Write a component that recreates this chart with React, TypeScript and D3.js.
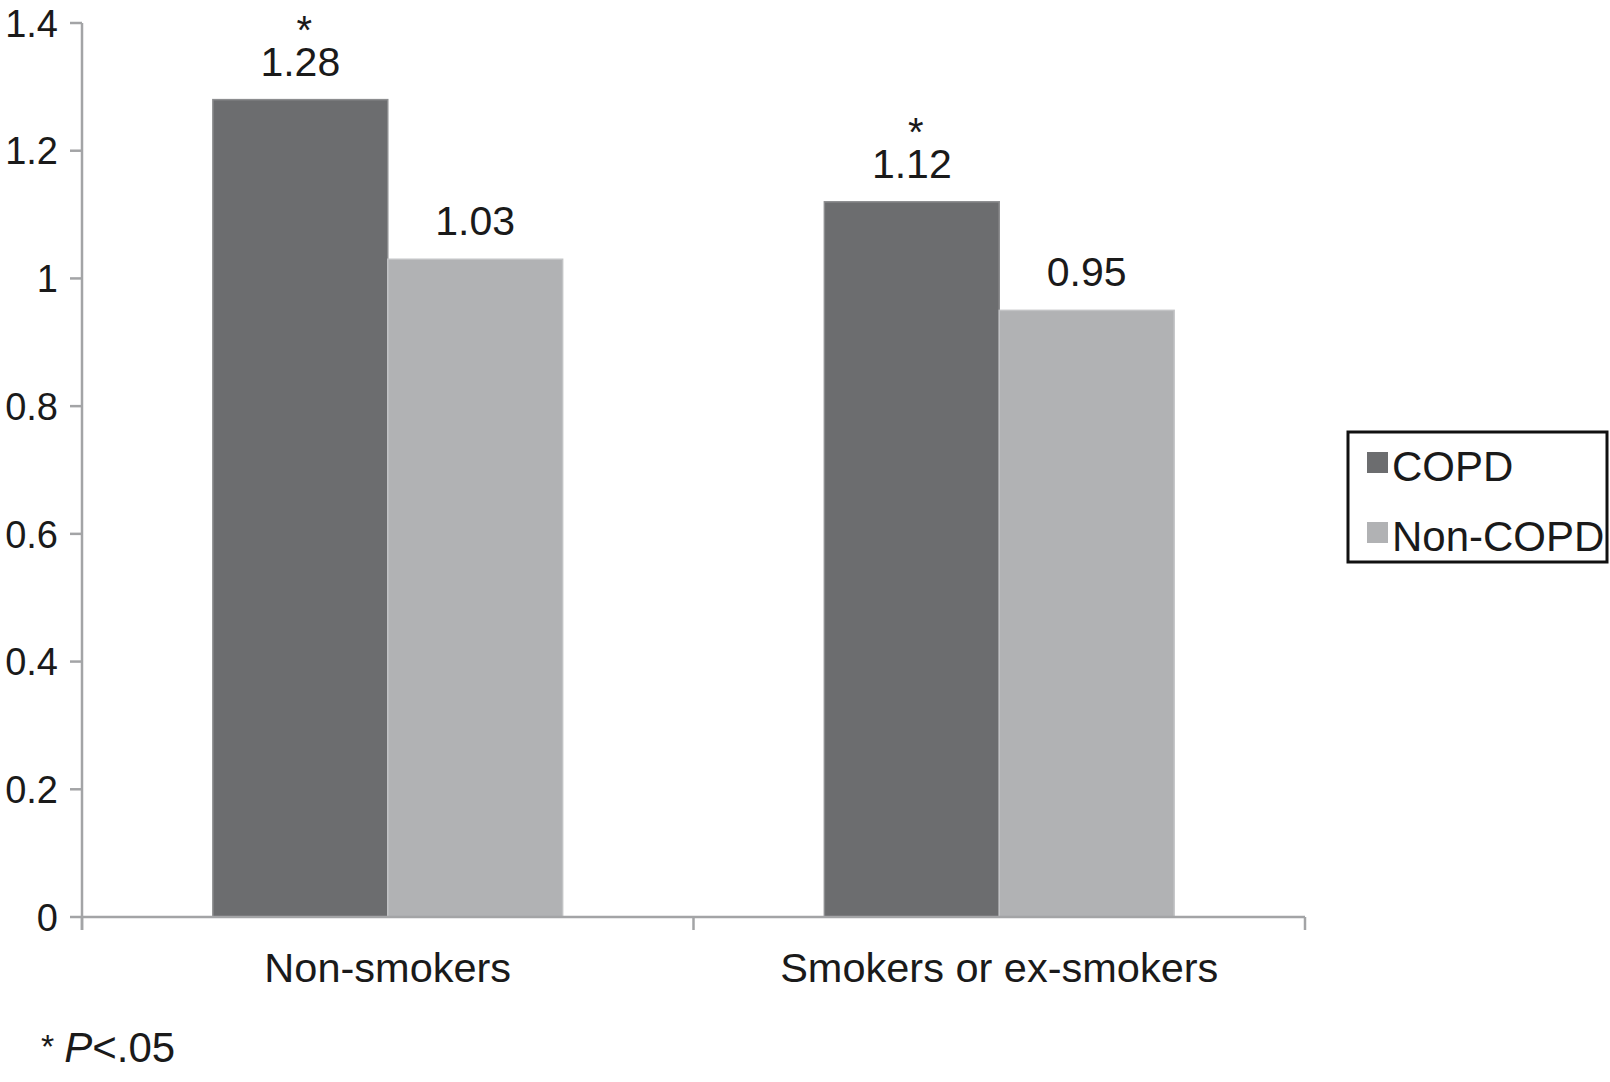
import React from "react";
import * as d3 from "d3";

const categories = ["Non-smokers", "Smokers or ex-smokers"];
const seriesNames = ["COPD", "Non-COPD"];
const copdValues = [1.28, 1.12];
const nonCopdValues = [1.03, 0.95];
const significant = [true, true];
const yTicks = [0, 0.2, 0.4, 0.6, 0.8, 1, 1.2, 1.4];
const yTickLabels = ["0", "0.2", "0.4", "0.6", "0.8", "1", "1.2", "1.4"];
const valueLabels = [["1.28", "1.12"], ["1.03", "0.95"]];

const colors = ["#6c6d6f", "#b1b2b4"];
const axisColor = "#a3a4a6";
const textColor = "#1a1a1a";
const font = "Liberation Sans, Arial, Helvetica, sans-serif";

export default function App() {
  const W = 1610;
  const H = 1082;
  const left = 82;
  const right = 1305;
  const top = 23;
  const bottom = 917;

  const y = d3.scaleLinear().domain([0, 1.4]).range([bottom, top]);
  const x0 = d3
    .scaleBand<string>()
    .domain(categories)
    .range([left, right])
    .paddingInner(0.428)
    .paddingOuter(0.214);
  const x1 = d3.scaleBand<string>().domain(seriesNames).range([0, x0.bandwidth()]);
  const xAxisScale = d3.scaleBand<string>().domain(categories).range([left, right]);

  const series = [copdValues, nonCopdValues];

  return (
    <svg
      width={W}
      height={H}
      style={{ position: "absolute", left: 0, top: 0, background: "#fff" }}
      fontFamily={font}
    >
      <rect x={0} y={0} width={W} height={H} fill="#fff" />
      {/* bars */}
      {categories.map((c, ci) =>
        seriesNames.map((s, si) => {
          const v = series[si][ci];
          const bx = (x0(c) ?? 0) + (x1(s) ?? 0);
          const bw = x1.bandwidth();
          const by = y(v);
          return (
            <g key={c + s}>
              <rect
                x={bx}
                y={by}
                width={bw}
                height={bottom - by}
                fill={colors[si]}
                stroke={si === 0 ? "#8c8d8f" : "#c2c3c5"}
                strokeWidth={1.5}
              />
              <text
                x={bx + bw / 2}
                y={by - 24}
                textAnchor="middle"
                fontSize={41}
                fill={textColor}
              >
                {valueLabels[si][ci]}
              </text>
              {si === 0 && significant[ci] ? (
                <text
                  x={bx + bw / 2 + 4}
                  y={by - 24 - 32}
                  textAnchor="middle"
                  fontSize={40}
                  fill={textColor}
                >
                  *
                </text>
              ) : null}
            </g>
          );
        })
      )}
      {/* y axis */}
      <line x1={left} x2={left} y1={top} y2={bottom + 13} stroke={axisColor} strokeWidth={2.5} />
      {yTicks.map((t, i) => (
        <g key={t}>
          <line x1={left - 12} x2={left} y1={y(t)} y2={y(t)} stroke={axisColor} strokeWidth={2.5} />
          <text
            x={58}
            y={y(t)}
            dy="0.36em"
            textAnchor="end"
            fontSize={38}
            fill={textColor}
          >
            {yTickLabels[i]}
          </text>
        </g>
      ))}
      {/* x axis */}
      <line x1={left} x2={right} y1={bottom} y2={bottom} stroke={axisColor} strokeWidth={2.5} />
      {[...categories.map((c) => xAxisScale(c) ?? 0), right].map((tx, i) => (
        <line key={i} x1={tx} x2={tx} y1={bottom} y2={bottom + 13} stroke={axisColor} strokeWidth={2.5} />
      ))}
      {categories.map((c) => (
        <text
          key={c}
          x={(x0(c) ?? 0) + x0.bandwidth() / 2}
          y={982}
          textAnchor="middle"
          fontSize={41.5}
          fill={textColor}
        >
          {c}
        </text>
      ))}
      {/* legend */}
      <rect x={1348} y={432} width={259} height={130} fill="none" stroke="#111" strokeWidth={3} />
      {seriesNames.map((s, i) => (
        <g key={s}>
          <rect x={1367} y={i === 0 ? 452 : 522} width={21} height={21} fill={colors[i]} />
          <text x={1392} y={i === 0 ? 481 : 551} fontSize={42} fill={textColor}>
            {s}
          </text>
        </g>
      ))}
      {/* footnote */}
      <text x={41} y={1062} fontSize={42} fill={textColor}>
        <tspan fontSize={34} dy={-4}>*</tspan>
        <tspan dy={4} dx={10} fontStyle="italic">P</tspan>
        <tspan>{"<.05"}</tspan>
      </text>
    </svg>
  );
}
